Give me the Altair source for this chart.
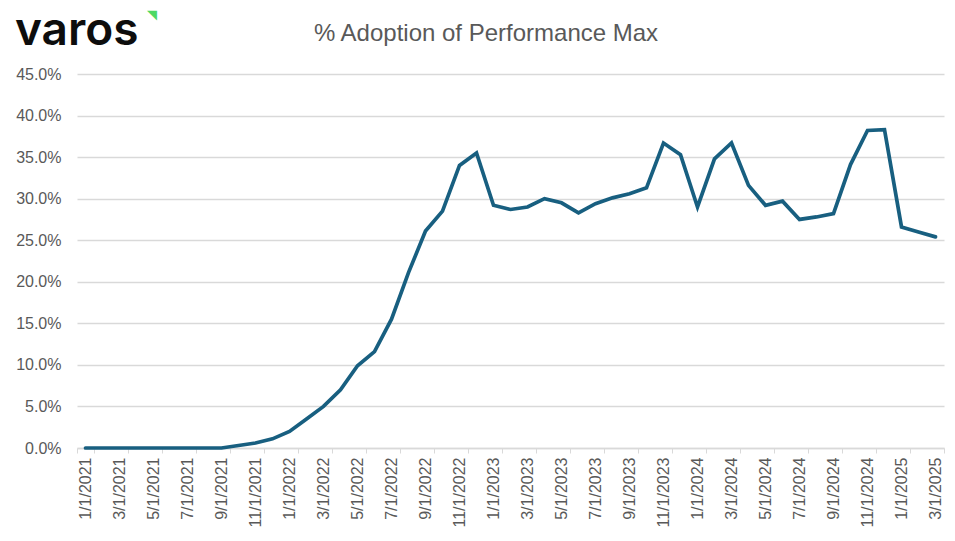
import altair as alt
import pandas as pd

months = [f"{m}/1/{y}" for y in range(2021, 2026) for m in range(1, 13)][:51]
adoption = [
    0.0, 0.0, 0.0, 0.0, 0.0, 0.0, 0.0, 0.0, 0.0, 0.3,
    0.6, 1.1, 2.0, 3.5, 5.0, 7.0, 9.9, 11.6, 15.5, 21.1,
    26.1, 28.5, 34.0, 35.5, 29.2, 28.7, 29.0, 30.0, 29.5, 28.3,
    29.4, 30.1, 30.6, 31.3, 36.7, 35.3, 29.0, 34.8, 36.7, 31.6,
    29.2, 29.7, 27.5, 27.8, 28.2, 34.1, 38.2, 38.3, 26.6, 26.0,
    25.4,
]
y_ticks = [i * 0.05 for i in range(10)]
x_labels = months[::2]

title_text = ["% Adoption of Performance Max"]
logo_text = ["varos"]
accent_text = ["◥"]

df = pd.DataFrame({"month": months, "share": [v / 100 for v in adoption]})

line = alt.Chart(df).mark_line(color="#185f80", strokeWidth=3.7, strokeCap="round").encode(
    x=alt.X("month:O", sort=months, title=None,
            scale=alt.Scale(type="band", paddingInner=0, paddingOuter=0),
            axis=alt.Axis(values=x_labels, labelAngle=-90, tickBand="extent", grid=False,
                          domainColor="#d9d9d9", domainWidth=1.3, tickColor="#d9d9d9", tickSize=5,
                          labelColor="#595959", labelFont="Liberation Sans", labelFontSize=16,
                          labelPadding=4)),
    y=alt.Y("share:Q", title=None,
            scale=alt.Scale(domain=[0, 0.45], nice=False),
            axis=alt.Axis(values=y_ticks, format=".1%", domain=False, ticks=False,
                          gridColor="#d9d9d9", gridWidth=1.3,
                          labelColor="#595959", labelFont="Liberation Sans", labelFontSize=16,
                          labelPadding=16)),
)

title = alt.Chart(pd.DataFrame({"t": title_text})).mark_text(
    align="center", baseline="alphabetic", font="Liberation Sans", fontSize=24, color="#595959"
).encode(x=alt.value(409), y=alt.value(-33), text="t:N")

logo = alt.Chart(pd.DataFrame({"t": logo_text})).mark_text(
    align="left", baseline="alphabetic", font="Inter", fontSize=46, fontWeight=600, color="#0d0d0d"
).encode(x=alt.value(-62), y=alt.value(-29), text="t:N")

accent = alt.Chart(pd.DataFrame({"t": accent_text})).mark_text(
    align="left", baseline="middle", font="DejaVu Sans", fontSize=13, color="#4cd964"
).encode(x=alt.value(70), y=alt.value(-59), text="t:N")

chart = alt.layer(line, title, logo, accent).properties(
    width=867,
    height=374,
    padding={"left": 69, "top": 66, "right": 3, "bottom": 85},
    autosize=alt.AutoSizeParams(type="none"),
).configure_view(stroke=None)

chart.save("out.html", embed_options={"renderer": "svg", "actions": False})
